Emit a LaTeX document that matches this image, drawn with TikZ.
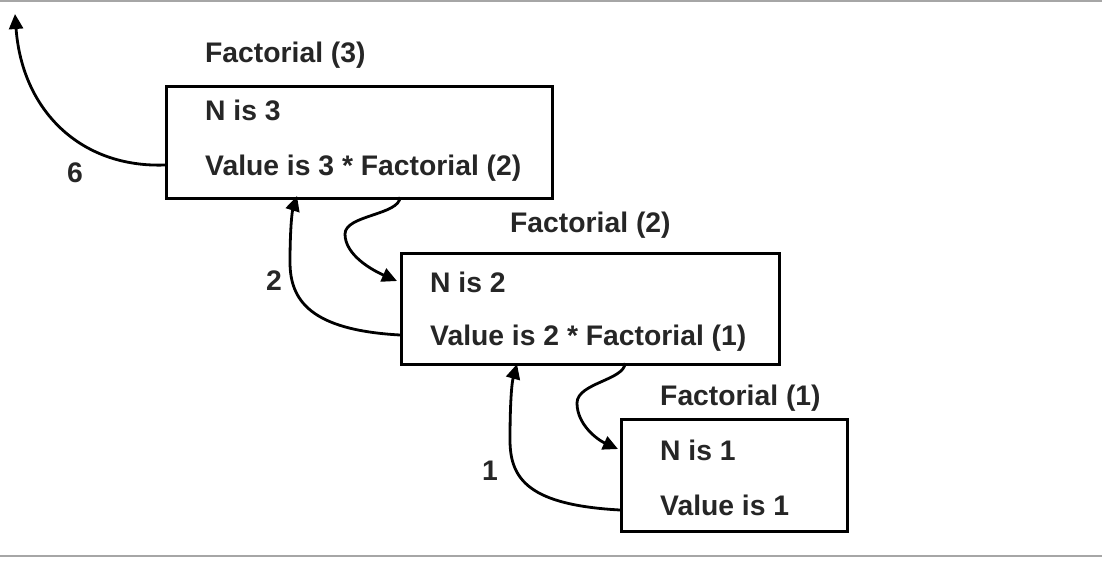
\documentclass[tikz,border=0pt]{standalone}
\usepackage{fontspec}
\setmainfont{Liberation Sans}
\usetikzlibrary{arrows.meta}
\begin{document}
\begin{tikzpicture}[x=1pt,y=-1pt,
  box/.style={draw, line width=2.6pt, anchor=north west, inner sep=0pt},
  txt/.style={anchor=base west, inner sep=0pt, font=\bfseries\fontsize{28.3}{34}\selectfont, text=black!85},
  arr/.style={line width=2.8pt, -{Triangle[length=15pt,width=14pt]}},
  rule/.style={line width=2.5pt, gray!70}]
\useasboundingbox (0,0) rectangle (1102,563);
\draw[rule] (0,1) -- (1102,1);
\draw[rule] (0,556) -- (1102,556);
% boxes
\node[box, minimum width=386pt, minimum height=112pt] (b1) at (165,85) {};
\node[box, minimum width=378pt, minimum height=111pt] (b2) at (400,252) {};
\node[box, minimum width=226pt, minimum height=112pt] (b3) at (620,418) {};
% titles
\node[txt] (t1) at (205,62) {Factorial (3)};
\node[txt] (t2) at (510,232) {Factorial (2)};
\node[txt] (t3) at (660,405) {Factorial (1)};
% contents
\node[txt] (n1) at (205,120) {N is 3};
\node[txt] (v1) at (205,175) {Value is 3 * Factorial (2)};
\node[txt] (n2) at (430,292) {N is 2};
\node[txt] (v2) at (430,345) {Value is 2 * Factorial (1)};
\node[txt] (n3) at (660,460) {N is 1};
\node[txt] (v3) at (660,515) {Value is 1};
% labels
\node[txt] (l6) at (67,182) {6};
\node[txt] (l2) at (266,290) {2};
\node[txt] (l1) at (482,480) {1};
% connector points
\coordinate (top) at (15,14);
\coordinate (o1) at (165,165);
\coordinate (d1) at (400,197);
\coordinate (i2) at (397,281);
\coordinate (o2) at (400,335);
\coordinate (u1) at (297,196);
\coordinate (d2) at (625,363);
\coordinate (i3) at (618,449);
\coordinate (o3) at (620,510);
\coordinate (u2) at (517,364);
% arrows
\draw[arr] (o1) .. controls (80,168) and (22,110) .. (top);
\draw[arr] (d1) .. controls (400,215) and (345,215) .. (345,234) .. controls (345,255) and (372,270) .. (i2);
\draw[arr] (o2) .. controls (310,330) and (290,300) .. (290,262) .. controls (290,230) and (292,212) .. (u1);
\draw[arr] (d2) .. controls (625,380) and (577,383) .. (577,403) .. controls (577,425) and (598,440) .. (i3);
\draw[arr] (o3) .. controls (530,505) and (510,480) .. (510,440) .. controls (510,400) and (512,382) .. (u2);
\end{tikzpicture}
\end{document}
